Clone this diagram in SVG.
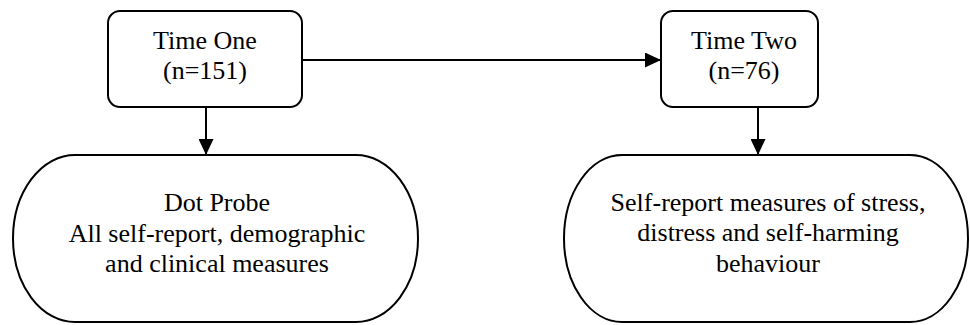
<svg xmlns="http://www.w3.org/2000/svg" width="970" height="325" viewBox="0 0 970 325">
<defs>
<style>
.box{fill:#fff;stroke:#000;stroke-width:2}
.ln{fill:none;stroke:#000;stroke-width:2}
.t{font-family:'Liberation Serif', 'DejaVu Serif', serif;font-size:26px;fill:#000;text-anchor:middle}
</style>
<marker id="arr" markerUnits="userSpaceOnUse" markerWidth="17" markerHeight="15" refX="16" refY="7.5" orient="auto">
<path d="M0,0 L16,7.5 L0,15 Z" fill="#000"/>
</marker>
</defs>
<rect width="970" height="325" fill="#fff"/>
<g id="connectors">
<path class="ln" d="M302,60 H661" marker-end="url(#arr)"/>
<path class="ln" d="M206,107 V155" marker-end="url(#arr)"/>
<path class="ln" d="M758,107 V155" marker-end="url(#arr)"/>
</g>
<g id="time-one" class="t" font-family="Liberation Serif, serif">
<rect class="box" x="108" y="11" width="194" height="96" rx="12" ry="12"/>
<text x="205" y="49">Time One</text>
<text x="205" y="79">(n=151)</text>
</g>
<g id="time-two" class="t" font-family="Liberation Serif, serif">
<rect class="box" x="661" y="11" width="157" height="96" rx="12" ry="12"/>
<text x="744" y="49">Time Two</text>
<text x="744" y="79">(n=76)</text>
</g>
<g id="dot-probe" class="t" font-family="Liberation Serif, serif">
<rect class="box" x="13" y="155" width="405" height="167" rx="62" ry="83.5"/>
<text x="217" y="211">Dot Probe</text>
<text x="217" y="242">All self-report, demographic</text>
<text x="217" y="272">and clinical measures</text>
</g>
<g id="self-report" class="t" font-family="Liberation Serif, serif">
<rect class="box" x="564" y="155" width="404" height="167" rx="58" ry="83.5"/>
<text x="768" y="211">Self-report measures of stress,</text>
<text x="768" y="241">distress and self-harming</text>
<text x="768" y="272">behaviour</text>
</g>
</svg>
